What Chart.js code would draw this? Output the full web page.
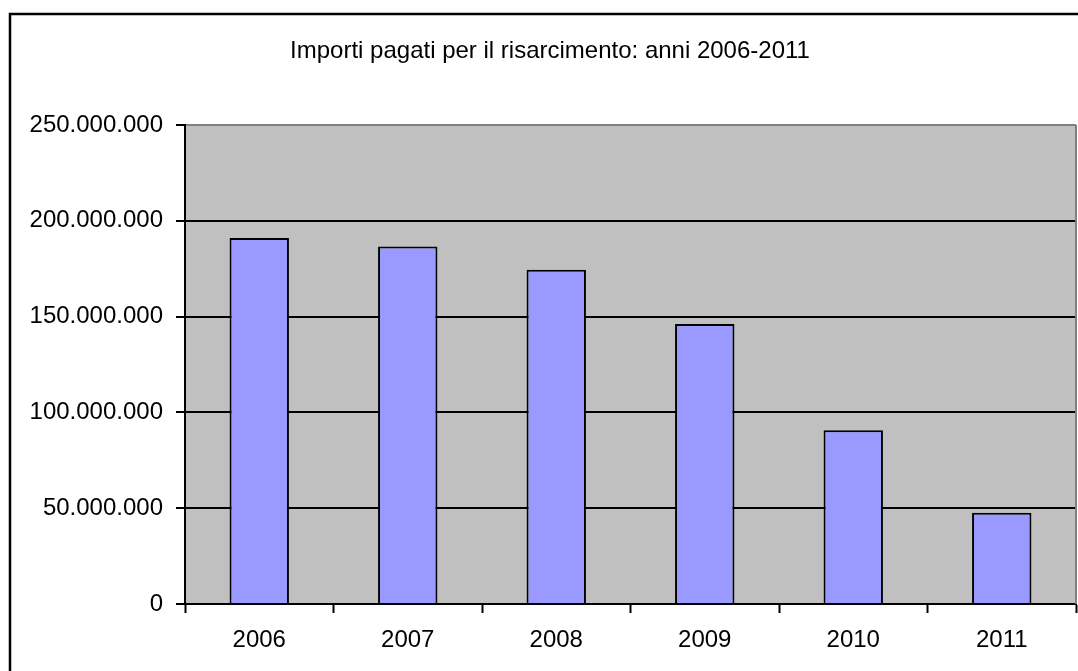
<!DOCTYPE html>
<html lang="it">
<head>
<meta charset="utf-8">
<title>Importi pagati per il risarcimento</title>
<script src="https://cdn.jsdelivr.net/npm/chart.js@4.4.1/dist/chart.umd.min.js"></script>
<style>
  html, body { margin: 0; padding: 0; background: #fff; }
  canvas { display: block; }
</style>
</head>
<body>
<canvas id="risarcimentoChart" width="1078" height="671"></canvas>
<script>
const anni = ['2006', '2007', '2008', '2009', '2010', '2011'];
const importi = [191000000, 186600000, 174400000, 146200000, 90700000, 47600000];
const tickImporti = [0, 50000000, 100000000, 150000000, 200000000, 250000000];
const titolo = 'Importi pagati per il risarcimento: anni 2006-2011';

const coloreBarre = '#9999FF';
const coloreSfondo = '#C0C0C0';
const coloreBordoArea = '#808080';
const fontBase = "'Liberation Sans', Arial, sans-serif";

// 250000000 -> "250.000.000"
const formatta = v => String(Math.round(v)).replace(/\B(?=(\d{3})+(?!\d))/g, '.');

// cornice esterna, sfondo grigio dell'area e titolo
const decorazioni = {
  id: 'decorazioni',
  beforeDraw(chart) {
    const { ctx, chartArea: a } = chart;
    ctx.save();
    ctx.fillStyle = coloreSfondo;
    ctx.fillRect(a.left, a.top, a.right - a.left, a.bottom - a.top);

    ctx.strokeStyle = '#000';
    ctx.lineWidth = 2.5;
    ctx.beginPath();
    ctx.moveTo(1090, 14);
    ctx.lineTo(10, 14);
    ctx.lineTo(10, 690);
    ctx.stroke();

    ctx.fillStyle = '#000';
    ctx.font = '24px ' + fontBase;
    ctx.textAlign = 'center';
    ctx.textBaseline = 'middle';
    ctx.fillText(titolo, 550, 51);
    ctx.restore();
  },
  afterDatasetsDraw(chart) {
    const { ctx, chartArea: a } = chart;
    ctx.save();
    ctx.strokeStyle = coloreBordoArea;
    ctx.lineWidth = 2;
    ctx.beginPath();
    ctx.moveTo(a.right, a.top);
    ctx.lineTo(a.right, a.bottom);
    ctx.stroke();
    ctx.restore();
  }
};

new Chart(document.getElementById('risarcimentoChart'), {
  type: 'bar',
  data: {
    labels: anni,
    datasets: [{
      label: 'Importi pagati',
      data: importi,
      backgroundColor: coloreBarre,
      borderColor: '#000',
      borderWidth: 2,
      barPercentage: 0.4,
      categoryPercentage: 1
    }]
  },
  options: {
    responsive: false,
    animation: false,
    layout: { padding: { top: 125, right: 2, left: 0, bottom: 0 } },
    plugins: {
      legend: { display: false },
      tooltip: { enabled: false }
    },
    scales: {
      x: {
        offset: true,
        grid: {
          offset: true,
          drawOnChartArea: false,
          tickLength: 9,
          tickColor: '#000',
          tickWidth: 2
        },
        border: { color: '#000', width: 2 },
        ticks: { color: '#000', font: { family: fontBase, size: 24 }, padding: 13 },
        afterFit: s => { s.height = 67; }
      },
      y: {
        min: 0,
        max: 250000000,
        afterBuildTicks: s => { s.ticks = tickImporti.map(v => ({ value: v })); },
        grid: {
          color: c => (c.tick && c.tick.value === 250000000 ? coloreBordoArea : '#000'),
          lineWidth: 2,
          tickLength: 9,
          tickColor: '#000',
          tickWidth: 2
        },
        border: { color: '#000', width: 2 },
        ticks: {
          color: '#000',
          font: { family: fontBase, size: 24 },
          padding: 13,
          callback: v => formatta(v)
        },
        afterFit: s => { s.width = 185; }
      }
    }
  },
  plugins: [decorazioni]
});
</script>
</body>
</html>
